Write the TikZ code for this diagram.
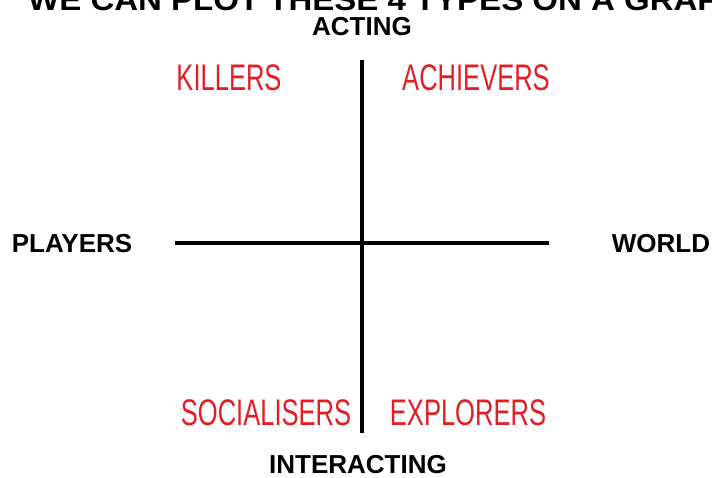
\documentclass[tikz,border=0pt]{standalone}
\usepackage{fontspec}
\setmainfont{Liberation Sans}
\definecolor{lblred}{RGB}{225,30,35}
\tikzset{
  axislbl/.style={font=\fontsize{26}{26}\selectfont\bfseries, text=black, inner sep=0pt},
  typelbl/.style={font=\fontsize{37}{37}\selectfont, text=lblred, inner sep=0pt},
  axisline/.style={line width=4.5pt, black}
}
\newcommand{\narrow}[1]{\scalebox{0.69}[1]{#1}}
\begin{document}
\begin{tikzpicture}[x=1pt,y=-1pt]
\useasboundingbox (0,0) rectangle (712,478);
\clip (0,0) rectangle (712,478);
\node[anchor=base west, font=\fontsize{30}{30}\selectfont\bfseries, inner sep=0pt] (title) at (28,11) {\scalebox{1.1}[1]{WE CAN PLOT THESE 4 TYPES ON A GRAPH}};
\coordinate (vt) at (362,60);
\coordinate (vb) at (362,433);
\coordinate (hl) at (175,243);
\coordinate (hr) at (549,243);
\draw[axisline] (vt) -- (vb);
\draw[axisline] (hl) -- (hr);
\node[axislbl] (acting) at (362,27) {ACTING};
\node[axislbl] (interacting) at (358,465) {INTERACTING};
\node[axislbl] (players) at (72,244) {PLAYERS};
\node[axislbl] (world) at (661,244) {WORLD};
\node[typelbl] (killers) at (229,78) {\narrow{KILLERS}};
\node[typelbl] (achievers) at (476,78) {\narrow{ACHIEVERS}};
\node[typelbl] (socialisers) at (266,413) {\narrow{SOCIALISERS}};
\node[typelbl] (explorers) at (468,413) {\narrow{EXPLORERS}};
\end{tikzpicture}
\end{document}
